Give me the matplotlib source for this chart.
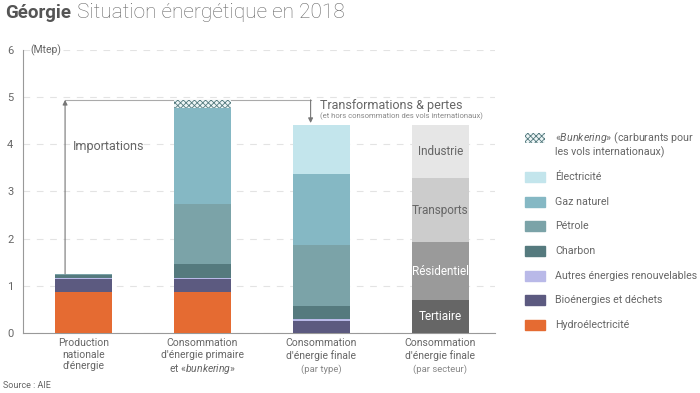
import matplotlib
matplotlib.use("Agg")
import matplotlib.pyplot as plt
from matplotlib.patches import Rectangle
import numpy as np

plt.rcParams['font.family'] = ['Roboto', 'DejaVu Sans']
plt.rcParams['mathtext.fontset'] = 'custom'
plt.rcParams['mathtext.rm'] = 'Roboto'
plt.rcParams['mathtext.it'] = 'Roboto:italic'
plt.rcParams['hatch.linewidth'] = 0.6

# Données (Mtep)
categories = ["Production\nnationale\nd'énergie",
              "Consommation\nd'énergie primaire\net «$\\mathit{bunkering}$»",
              "Consommation\nd'énergie finale",
              "Consommation\nd'énergie finale"]
sub_labels = ["", "", "(par type)", "(par secteur)"]

hydro = [0.86, 0.86, 0.0, 0.0]
bio = [0.28, 0.28, 0.26, 0.0]
autres = [0.03, 0.03, 0.03, 0.0]
charbon = [0.05, 0.29, 0.29, 0.0]
petrole = [0.02, 1.27, 1.29, 0.0]
gaz = [0.01, 2.03, 1.50, 0.0]
elec = [0.0, 0.0, 1.04, 0.0]
bunker = [0.0, 0.18, 0.0, 0.0]

secteurs = ["Tertiaire", "Résidentiel", "Transports", "Industrie"]
secteur_vals = [0.70, 1.22, 1.36, 1.13]
secteur_cols = ["#666666", "#9a9a9a", "#cccccc", "#e6e6e6"]
secteur_txt = ["white", "white", "#666666", "#666666"]

energies = [("Hydroélectricité", hydro, "#e56b32"),
            ("Bioénergies et déchets", bio, "#5c5a80"),
            ("Autres énergies renouvelables", autres, "#b9b9e8"),
            ("Charbon", charbon, "#557a7e"),
            ("Pétrole", petrole, "#7ba3a8"),
            ("Gaz naturel", gaz, "#85b8c4"),
            ("Électricité", elec, "#c3e5ec")]

TXT = "#666666"
fig = plt.figure(figsize=(7, 3.93), dpi=100)
ax = fig.add_axes([0.033, 0.153, 0.674, 0.72])

x = np.arange(len(categories))
w = 0.48
bottom = np.zeros(len(categories))
for name, vals, col in energies:
    ax.bar(x, vals, w, bottom=bottom, color=col, linewidth=0, zorder=3)
    bottom += np.array(vals)
ax.bar(x, bunker, w, bottom=bottom, color="#eef6f7", edgecolor="#557a7e",
       linewidth=0, hatch="xxxxxx", zorder=3)
totals = bottom + np.array(bunker)

sb = 0.0
for name, v, col, tc in zip(secteurs, secteur_vals, secteur_cols, secteur_txt):
    ax.bar(3, v, w, bottom=sb, color=col, linewidth=0, zorder=3)
    ax.text(3, sb + v / 2, name, ha="center", va="center", fontsize=8.5, color=tc, zorder=4)
    sb += v

# flèches importations / transformations
ax_x = -0.155
ax.annotate("", xy=(ax_x, totals[1]), xytext=(ax_x, totals[0]),
            arrowprops=dict(arrowstyle="-|>", color="#777777", lw=0.8, mutation_scale=7, shrinkA=0, shrinkB=0))
tx = 1.91
ax.plot([ax_x, tx], [totals[1], totals[1]], color="#aaaaaa", lw=0.8, zorder=2)
ax.annotate("", xy=(tx, totals[2] + 0.04), xytext=(tx, totals[1]),
            arrowprops=dict(arrowstyle="-|>", color="#777777", lw=0.8, mutation_scale=7, shrinkA=0, shrinkB=0))
ax.text(-0.09, 3.95, "Importations", fontsize=9, color=TXT, va="center")
ax.text(1.99, 4.83, "Transformations & pertes", fontsize=9, color=TXT, va="center")
ax.text(1.99, 4.6, "(et hors consommation des vols internationaux)", fontsize=5.5, color="#888888", va="center")
ax.text(-0.45, 6, "(Mtep)", fontsize=7.5, color=TXT, va="center")

ax.set_xlim(-0.508, 3.46)
ax.set_ylim(0, 6)
ax.set_yticks(range(7))
ax.yaxis.grid(True, color="#e3e3e3", linestyle=(0, (6, 6)), lw=0.8, zorder=0)
ax.set_xticks([])
ax.tick_params(axis="y", length=0, pad=7, labelsize=8, labelcolor=TXT)
for s in ["top", "right"]:
    ax.spines[s].set_visible(False)
ax.spines["left"].set_color("#999999")
ax.spines["bottom"].set_color("#999999")
ax.spines["left"].set_linewidth(0.8)
ax.spines["bottom"].set_linewidth(0.8)

for xi, lab, sub in zip(x, categories, sub_labels):
    ax.text(xi, -0.11, lab, ha="center", va="top", fontsize=7.5, color=TXT, linespacing=1.2)
    if sub:
        ax.text(xi, -0.66, sub, ha="center", va="top", fontsize=6.8, color="#888888")

# légende
leg_items = [(n, c) for n, v, c in energies][::-1]
ly = 1 - 177 / 393
for name, col in leg_items:
    fig.patches.append(Rectangle((525 / 700, ly - 5 / 393), 20 / 700, 10 / 393,
                                 transform=fig.transFigure, color=col))
    fig.text(555 / 700, ly, name, fontsize=7.7, color=TXT, va="center")
    ly -= 24.7 / 393
by = 1 - 138 / 393
fig.patches.append(Rectangle((525 / 700, by - 5 / 393), 20 / 700, 10 / 393, transform=fig.transFigure,
                             facecolor="#eef6f7", edgecolor="#557a7e", linewidth=0, hatch="xxxxxx"))
fig.text(555 / 700, by, "«$\\mathit{Bunkering}$» (carburants pour", fontsize=7.7, color=TXT, va="center")
fig.text(555 / 700, by - 14 / 393, "les vols internationaux)", fontsize=7.7, color=TXT, va="center")

fig.text(5 / 700, 1 - 13 / 393, "Géorgie", fontsize=13.5, fontweight="bold", color="#555555", va="center")
fig.text(77 / 700, 1 - 13 / 393, "Situation énergétique en 2018", fontsize=15, fontweight="light",
         color="#666666", va="center")
fig.text(3 / 700, 1 - 385 / 393, "Source : AIE", fontsize=6.5, color=TXT, va="center")

fig.savefig("out.png", dpi=100)
